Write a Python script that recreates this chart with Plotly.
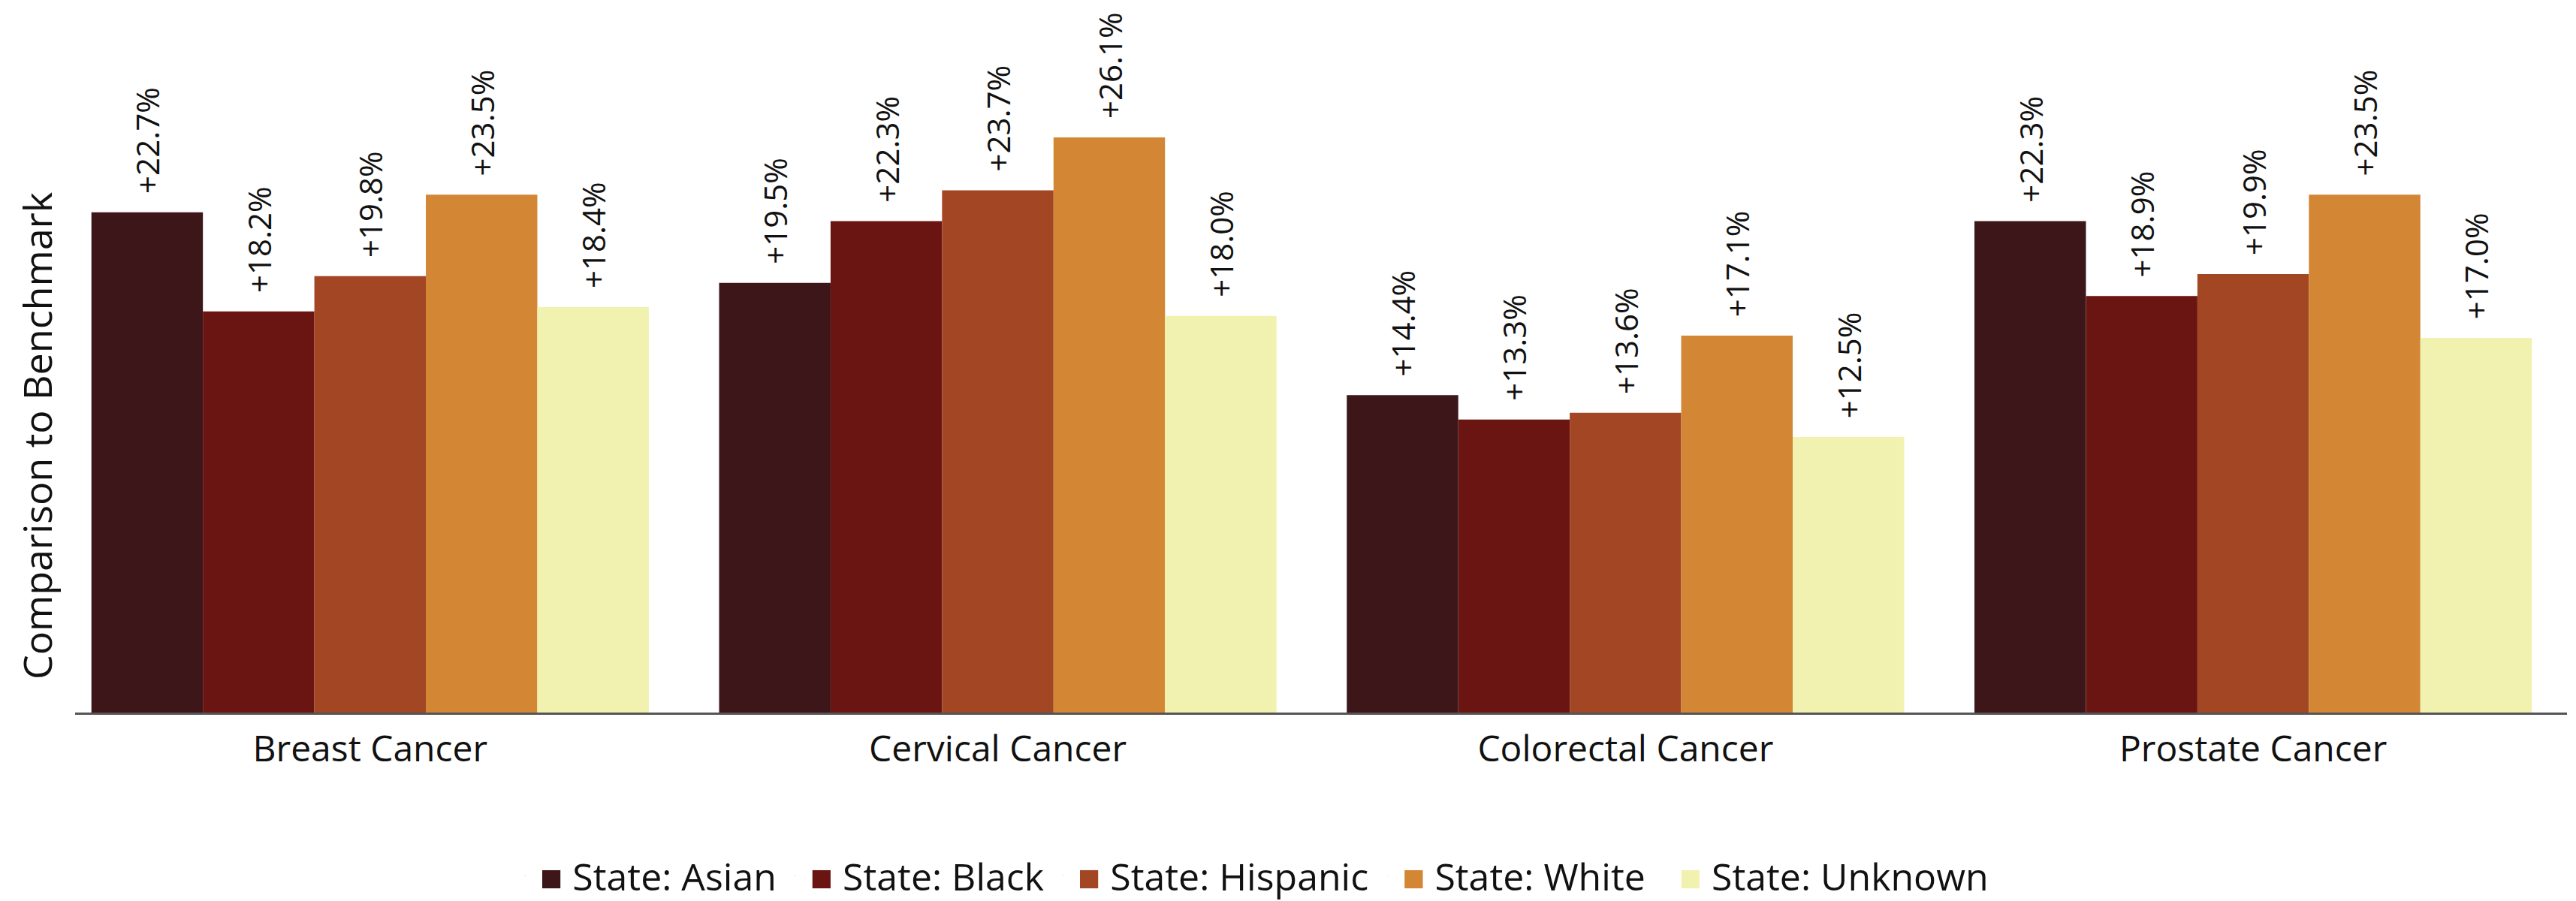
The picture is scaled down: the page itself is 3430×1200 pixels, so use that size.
import plotly.graph_objects as go

CATEGORIES = ["Breast Cancer", "Cervical Cancer", "Colorectal Cancer", "Prostate Cancer"]
SERIES = ["State: Asian", "State: Black", "State: Hispanic", "State: White", "State: Unknown"]
ASIAN = [22.7, 19.5, 14.4, 22.3]
BLACK = [18.2, 22.3, 13.3, 18.9]
HISPANIC = [19.8, 23.7, 13.6, 19.9]
WHITE = [23.5, 26.1, 17.1, 23.5]
UNKNOWN = [18.4, 18.0, 12.5, 17.0]

COLORS = ["#3D1619", "#6A1511", "#A34624", "#D38634", "#F2F2B0"]
FONT = "Open Sans, Noto Sans, sans-serif"
TEXT_COLOR = "#111111"

fig = go.Figure()
for name, vals, color in zip(SERIES, [ASIAN, BLACK, HISPANIC, WHITE, UNKNOWN], COLORS):
    # nbsp padding keeps the rotated label off the top of the bar
    labels = ["\u00a0\u00a0+" + f"{v:.1f}%" for v in vals]
    fig.add_trace(go.Bar(
        x=CATEGORIES, y=vals, name=name, marker_color=color, marker_line_width=0,
        text=labels, textposition="outside", textangle=-90, cliponaxis=False,
        constraintext="none",
        textfont=dict(size=42, color=TEXT_COLOR, family=FONT),
        showlegend=False,
    ))
    # legend proxy: the default bar swatch is tiny, so a coloured square glyph is used instead
    fig.add_trace(go.Scatter(
        x=[None], y=[None], mode="markers", marker=dict(opacity=0, size=2),
        name=f"<span style='color:{color}'>■</span> {name}",
    ))

fig.update_layout(
    width=3430, height=1200,
    paper_bgcolor="white", plot_bgcolor="white",
    font=dict(family=FONT, size=46, color=TEXT_COLOR),
    margin=dict(l=92, r=20, t=0, b=259),
    barmode="group", bargap=0.112, bargroupgap=0,
    xaxis=dict(range=[-0.47, 3.5], showline=True, linecolor="#555555", linewidth=3,
               ticks="outside", ticklen=4, tickcolor="rgba(0,0,0,0)",
               tickfont=dict(size=48), showgrid=False, zeroline=False),
    yaxis=dict(range=[0, 32.06], visible=False),
    legend=dict(orientation="h", x=0.472, xanchor="center", yref="container", y=0.035,
                yanchor="middle", font=dict(size=50), itemwidth=30),
    annotations=[dict(text="Comparison to Benchmark", textangle=-90, showarrow=False,
                      xref="paper", yref="paper", x=-0.0157, y=0.392,
                      xanchor="center", yanchor="middle", font=dict(size=52))],
)

fig.write_html("out.html")
